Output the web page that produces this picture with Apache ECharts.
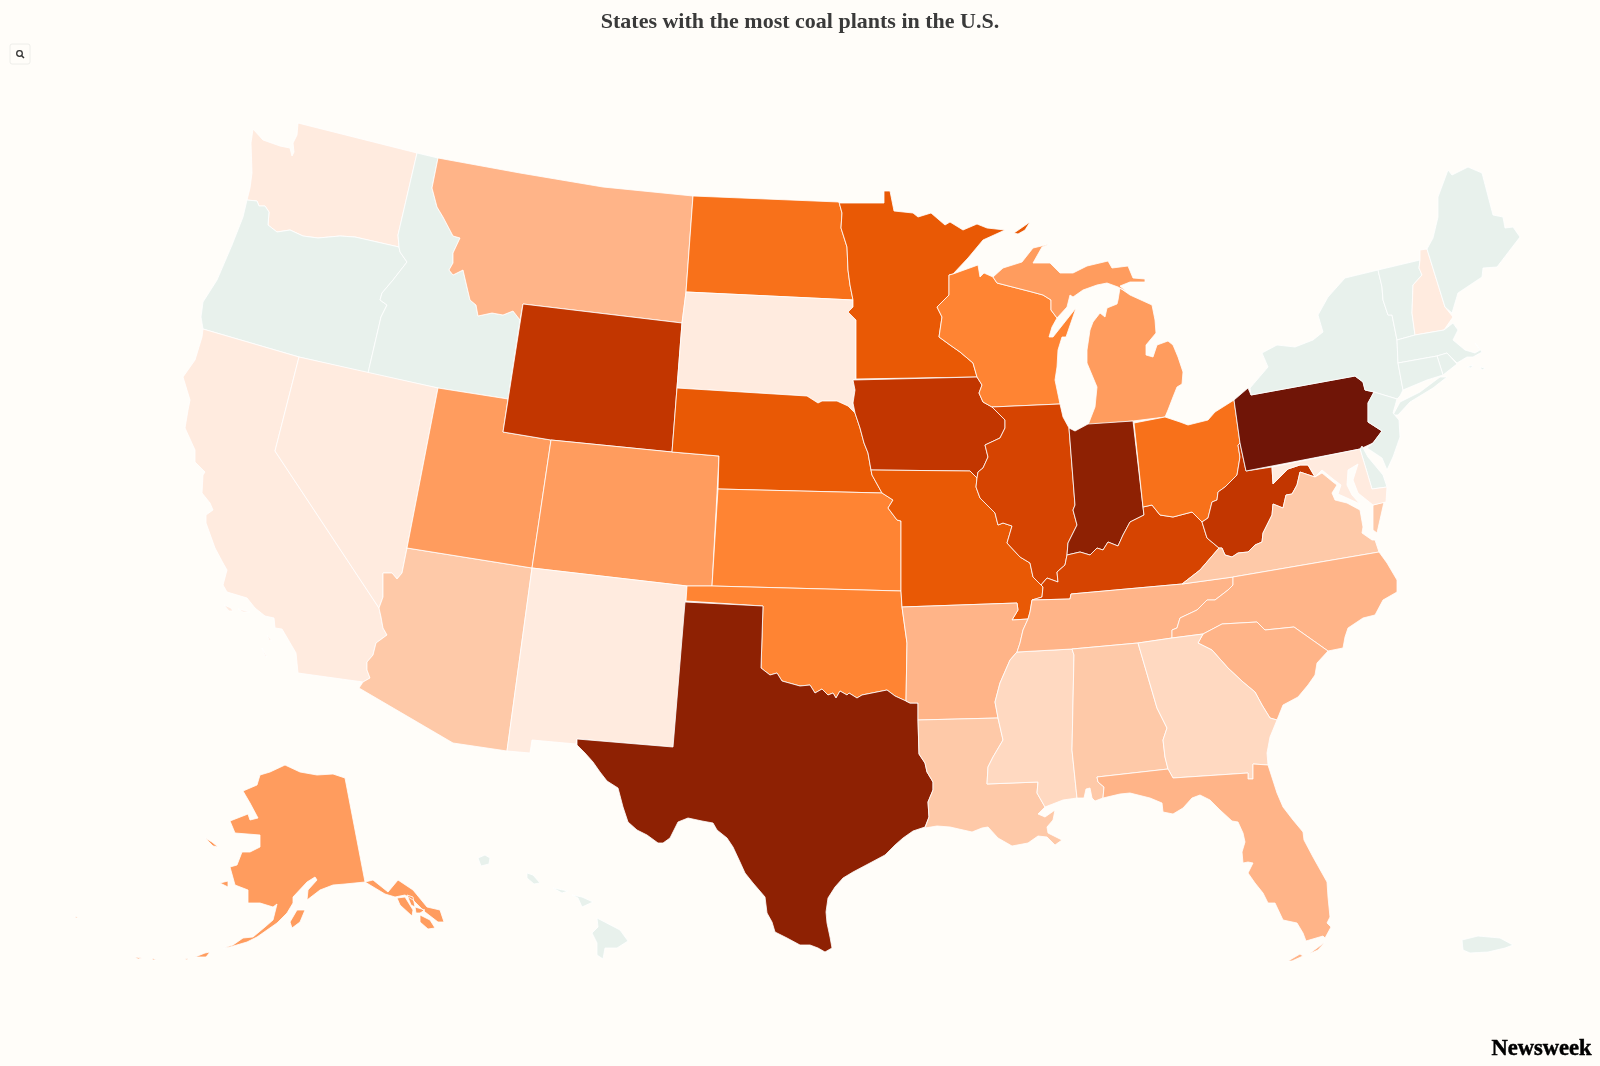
<!DOCTYPE html>
<html>
<head>
<meta charset="utf-8">
<title>States with the most coal plants in the U.S.</title>
<style>
  html, body { margin: 0; padding: 0; background: #fffdf9; }
  #map { width: 1600px; height: 1066px; }
</style>
<script src="https://cdn.jsdelivr.net/npm/echarts@6/dist/echarts.min.js"></script>
</head>
<body>
<div id="map"></div>
<script>
// values (colour class of each state)
const stateNames = ['Washington','Oregon','Idaho','California','Nevada','Arizona','Utah','Montana','Wyoming','Colorado','New Mexico','North Dakota','South Dakota','Nebraska','Kansas','Oklahoma','Texas','Minnesota','Iowa','Missouri','Arkansas','Louisiana','Wisconsin','Illinois','Mississippi','Michigan','Indiana','Kentucky','Tennessee','Alabama','Ohio','West Virginia','Virginia','North Carolina','South Carolina','Georgia','Florida','Pennsylvania','New York','Vermont','New Hampshire','Maine','Massachusetts','Rhode Island','Connecticut','New Jersey','Delaware','Maryland','Alaska','Hawaii','Puerto Rico'];
const coalPlants = [1,0,0,1,1,3,5,4,10,5,1,7,1,8,6,6,11,8,10,8,4,3,6,9,2,5,11,9,4,3,7,10,3,4,4,2,4,12,0,0,1,0,0,0,0,0,0,1,5,0,0];
const levelColors = ['#e8f1ec','#ffebdf','#ffd9c1','#fec9a8','#ffb488','#ff9c5e','#ff8433','#f8711a','#e95905','#d64401','#c23600','#8e2103','#701507'];

const rev = s => s.split(' ').reverse().join(' ');
const waOr = '399,247 355,237 340,236 318,238 303,236 290,230 277,232 268,225 269,212 265,206 259,206 257,201 247,200';
const orId = '368,373 381,317 387,305 380,300 382,293 393,280 407,262 400,252 399,247';
const idMt = '438,158 432,188 437,207 443,217 453,236 460,238 453,253 453,263 449,270 453,275 463,270 466,283 470,300 476,305 478,316 492,313 503,315 513,311 520,320';
const azCa = '363,682 370,678 367,670 367,662 373,655 376,643 387,635 383,628 381,617 379,608';
const azNv = '379,608 383,597 383,573 392,573 397,579 402,573 407,548';
const ndMn = '839,202 842,213 841,228 847,247 848,270 850,285 853,300';
const sdMn = '853,300 853,307 848,312 856,320 856,379';
const sdIa = '856,379 853,380 855,390 853,403 855,413';
const sdNe = '677,388 807,396 818,403 822,401 837,401 848,406 855,413';
const neIa = '855,413 860,428 864,443 868,453 871,470';
const ksMo = '882,493 893,500 888,508 897,520 901,521 901,591';
const redRiver = '761,668 770,675 777,673 782,681 800,686 810,685 815,693 822,689 828,695 833,693 836,698 840,691 847,695 849,693 857,698 862,695 877,692 887,690 895,696 906,701';
const okAr = '902,607 907,643 906,701';
const laTx = '918,720 919,754 925,763 927,772 933,782 933,790 928,802 929,817 925,827';
const mnWi = '953,274 949,275 949,295 937,307 942,317 939,337 950,345 960,352 973,363 977,377';
const wiIa = '977,377 982,385 979,393 983,402 992,407';
const ilIa = '992,407 1005,420 1005,428 1000,438 985,445 988,457 983,468 978,472 977,478';
const moIl = '977,478 976,487 980,498 995,513 998,525 1003,523 1012,526 1007,543 1020,557 1030,563 1033,577 1041,585';
const ilIn = '1069,428 1075,505 1073,510 1077,525 1068,543 1067,555';
const ilKy = '1067,555 1065,565 1057,572 1058,582 1047,578 1041,585';
const kyMo = '1041,585 1043,587 1042,597 1032,600';
const inKy = '1067,555 1080,552 1090,555 1097,548 1103,550 1108,542 1118,546 1123,535 1130,522 1144,515 1143,507';
const kyOh = '1143,507 1152,505 1160,515 1173,517 1192,512 1202,522';
const kyWv = '1202,522 1207,538 1219,548';
const kyVa = '1219,548 1200,570 1182,584';
const kyTn = '1182,584 1071,594 1070,599 1032,600';
const arMo = '902,607 1017,603 1018,610 1012,620 1028,619';
const moTn = '1032,600 1030,612 1028,619';
const arTn = '1028,619 1023,630 1020,643 1017,652';
const arMs = '1017,652 1010,660 1000,683 995,702 998,718';
const laMs = '998,718 1003,740 993,757 988,767 987,784 1038,782 1037,793 1045,807';
const alMs = '1072,649 1074,655 1072,750 1077,798';
const tnSouth = '1017,652 1072,649 1138,643 1172,638';
const alGa = '1138,643 1157,708 1167,728 1163,740 1165,757 1168,769';
const flGa = '1168,769 1173,778 1248,773 1248,779 1253,779 1253,764 1268,765';
const ncTn = '1172,638 1172,630 1177,628 1180,618 1197,610 1207,600 1215,600 1228,590 1233,585 1233,577';
const ncSc = '1203,634 1222,624 1257,622 1265,630 1294,627 1328,651';
const gaSc = '1203,634 1198,643 1212,650 1228,668 1243,682 1255,692 1262,705 1270,718 1277,720';
const ohWv = '1240,443 1238,445 1240,457 1237,475 1225,487 1218,492 1217,500 1212,502 1208,518 1202,522';
const vaWv = '1315,477 1300,472 1297,485 1292,494 1286,495 1283,508 1273,504 1272,515 1263,533 1262,542 1255,545 1248,552 1238,553 1232,557 1225,555 1222,548 1219,548';
const mdWv = '1272,467 1273,484 1288,469 1300,465 1308,465 1315,477';
const paDelaware = '1374,392 1368,403 1368,412 1368,422 1382,431 1373,443';
const nyPa = '1251,395 1355,376 1363,382 1365,390 1374,392';
const nyEast = '1378,270 1382,287 1383,300 1388,315 1392,315 1397,340';
const nyNe = '1397,340 1398,363 1403,390 1400,396 1397,399';
const nhVt = '1420,260 1419,268 1422,275 1413,285 1412,313 1415,335';

const stateOutlines = {
  'Washington': [`298,123 417,153 398,235 ${waOr} 250,188 252,173 251,143 253,129 263,140 280,146 290,148 292,156 294,152 293,143 297,135`],
  'Oregon': [`${waOr} 243,217 232,245 217,280 203,302 201,317 203,329 299,357 ${orId}`],
  'Idaho': [`417,153 ${idMt} 508,399 438,388 ${orId} 398,235`],
  'California': [`203,329 299,357 275,451 ${rev(azCa)} 298,673 297,663 296,653 282,629 275,628 274,618 265,616 255,608 247,598 227,592 223,585 227,570 223,563 215,548 206,523 206,515 213,510 210,503 202,493 203,475 205,472 195,462 195,450 185,428 188,410 190,400 183,377 195,360 202,337`,
    '224,605 231,608 233,611 229,611', '238,609 250,612 243,612', '262,648 267,657 265,656', '267,635 272,641 269,640'],
  'Nevada': [`299,357 438,388 ${rev(azNv)} 275,451`],
  'Arizona': [`407,548 532,568 507,751 453,743 359,688 ${azCa} ${azNv}`],
  'Utah': ['438,388 508,399 503,432 551,440 532,568 407,548'],
  'Montana': [`${idMt} 523,304 682,323 686,292 693,196 603,187 520,173`],
  'Wyoming': ['523,304 682,323 672,452 551,440 503,432'],
  'Colorado': ['551,440 672,452 719,456 712,586 687,586 532,568'],
  'New Mexico': ['532,568 687,586 686,601 673,747 577,739 576,744 532,740 530,753 507,751'],
  'North Dakota': [`693,196 ${ndMn} 686,292`],
  'South Dakota': [`686,292 ${sdMn} ${sdIa} ${rev(sdNe)} 682,323`],
  'Nebraska': [`${sdNe} ${neIa} 872,475 882,493 718,489 719,456 672,452`],
  'Kansas': [`718,489 ${ksMo} 712,586`],
  'Oklahoma': [`687,586 712,586 901,591 ${okAr} ${rev(redRiver)} 763,606 686,601`],
  'Texas': [`685,602 763,606 ${redRiver} 910,703 918,703 ${laTx} 913,831 903,838 895,845 885,855 870,863 853,872 843,878 835,887 828,898 826,912 827,923 830,937 832,948 825,952 818,948 810,945 800,945 787,938 775,932 772,922 767,913 765,897 753,883 745,873 740,862 733,847 727,838 717,830 713,823 702,821 688,818 678,822 673,832 670,838 663,843 658,843 647,835 637,830 628,822 623,807 618,788 607,781 600,772 593,762 585,753 577,745 577,739 673,747`],
  'Minnesota': [`840,203 884,203 884,191 890,191 894,211 913,213 918,217 931,213 945,225 950,222 963,230 977,224 987,228 1005,230 983,240 968,258 ${mnWi} 856,379 ${rev(sdMn)} ${rev(ndMn)}`,
    '1014,233 1030,222 1025,230 1018,234'],
  'Iowa': [`853,380 977,377 ${wiIa} ${ilIa} 970,471 871,470 ${rev(neIa)} ${rev(sdIa).split(' ').slice(0,-1).join(' ')}`],
  'Missouri': [`871,470 970,471 ${moIl} ${kyMo} ${moTn} ${rev(arMo)} 901,591 ${rev(ksMo)} 872,475`],
  'Arkansas': [`${arMo} ${arTn} ${arMs} 918,720 918,703 910,703 ${rev(okAr)}`],
  'Louisiana': [`918,720 ${laMs} 1038,814 1045,817 1055,810 1053,820 1047,827 1048,833 1062,840 1055,845 1047,837 1038,836 1028,843 1012,846 998,838 988,827 982,828 972,832 950,827 937,826 925,828 ${rev(laTx)}`],
  'Wisconsin': [`${mnWi} ${wiIa} 1060,404 1055,380 1057,367 1058,350 1062,337 1066,337 1076,308 1053,337 1049,337 1052,327 1057,318 1051,310 1051,300 1043,295 1032,292 997,283 993,277 984,273 980,277 978,265`],
  'Illinois': [`992,407 1060,404 1063,417 ${ilIn} ${ilKy} ${rev(moIl)} ${rev(ilIa)}`],
  'Mississippi': [`${arMs} ${laMs} 1063,800 ${rev(alMs)}`],
  'Michigan': ['1088,425 1133,421 1165,417 1168,410 1173,397 1177,387 1182,384 1183,372 1178,357 1173,345 1168,341 1157,345 1153,357 1146,355 1146,345 1156,333 1155,320 1152,305 1130,295 1120,288 1118,300 1117,304 1107,308 1105,317 1100,313 1093,322 1090,330 1087,350 1087,363 1097,387 1095,407',
    '993,277 1003,268 1022,262 1033,248 1050,244 1042,247 1033,263 1050,263 1060,273 1073,273 1087,266 1108,261 1112,268 1128,266 1133,278 1145,279 1145,282 1130,282 1120,286 1127,292 1118,287 1107,283 1097,285 1083,290 1073,297 1070,295 1067,307 1057,318 1051,310 1051,300 1043,295 1032,292 997,283'],
  'Indiana': [`1069,428 1075,431 1088,424 1133,421 1143,507 ${rev(inKy).split(' ').slice(1).join(' ')} ${rev(ilIn).split(' ').slice(1).join(' ')}`],
  'Kentucky': [`${inKy} ${kyOh} ${kyWv} ${kyVa} ${kyTn} ${rev(kyMo)} ${rev(ilKy)}`],
  'Tennessee': [`1032,600 ${rev(kyTn).split(' ').slice(1).join(' ')} 1233,577 ${rev(ncTn)} ${rev(tnSouth)} ${rev(arTn)} ${rev(moTn)}`],
  'Alabama': [`1072,649 ${alGa} 1097,777 1098,782 1104,787 1103,798 1095,801 1092,798 1090,788 1086,789 1084,798 1077,798 ${rev(alMs).split(' ').slice(1).join(' ')}`],
  'Ohio': [`1134,423 1165,417 1180,422 1188,425 1208,420 1215,412 1234,400 1240,443 ${ohWv} ${rev(kyOh)}`],
  'West Virginia': [`1240,443 1246,471 ${mdWv} ${vaWv} ${rev(kyWv)} ${rev(ohWv)}`],
  'Virginia': [`1182,584 1233,577 1379,552 1375,540 1372,540 1362,533 1363,527 1360,510 1347,503 1335,500 1332,493 1337,485 1333,482 1322,473 ${vaWv} ${kyVa}`,
    '1373,505 1384,502 1377,533 1373,530'],
  'North Carolina': [`1233,577 1379,552 1387,563 1397,580 1397,592 1383,600 1375,615 1363,618 1348,628 1345,637 1343,648 1328,651 ${rev(ncSc)} 1172,638 1172,630 1177,628 1180,618 1197,610 1207,600 1215,600 1228,590 1233,585`],
  'South Carolina': [`${gaSc} 1283,705 1298,697 1308,685 1315,675 1317,663 1328,651 ${rev(ncSc)}`],
  'Georgia': [`1138,643 1172,638 ${gaSc} 1270,737 1267,753 1268,765 ${rev(flGa)} ${rev(alGa).split(' ').slice(1).join(' ')}`],
  'Florida': [`1097,777 ${flGa} 1277,793 1283,807 1293,820 1303,832 1304,840 1313,857 1327,882 1328,897 1330,917 1327,923 1331,927 1325,938 1323,936 1306,941 1303,933 1297,923 1283,920 1275,903 1268,903 1263,893 1255,883 1248,873 1253,863 1248,862 1243,863 1242,852 1245,842 1243,833 1238,822 1232,821 1220,810 1210,800 1200,795 1192,798 1183,808 1173,814 1163,812 1162,803 1150,798 1130,793 1120,794 1103,798 1104,787 1098,782`,
    '1288,961 1300,954 1303,956 1292,961', '1309,954 1325,942 1318,950'],
  'Pennsylvania': [`1234,400 1248,388 1251,395 ${nyPa} ${paDelaware} 1360,449 1246,471 1240,443`],
  'New York': [`${nyPa.split(' ').slice(0,1)} 1250,388 1268,367 1262,353 1277,345 1295,347 1313,340 1323,332 1318,315 1328,297 1345,278 ${nyEast} ${nyNe} ${rev(nyPa).split(' ').slice(0,-1).join(' ')}`,
    '1400,402 1420,392 1440,377 1447,377 1433,388 1410,402 1398,415 1393,415'],
  'Vermont': [`1378,270 ${nhVt} ${rev(nyEast)}`],
  'New Hampshire': [`1420,250 1427,249 1445,307 1453,317 1444,330 ${rev(nhVt)}`],
  'Maine': ['1427,249 1433,238 1438,217 1438,197 1448,170 1452,175 1468,167 1482,173 1493,215 1503,217 1505,228 1513,227 1520,237 1510,250 1497,267 1483,268 1482,277 1467,287 1458,293 1452,313 1445,307'],
  'Massachusetts': ['1397,340 1415,335 1444,330 1453,323 1458,330 1453,340 1465,350 1475,353 1480,350 1475,343 1482,352 1473,357 1467,357 1457,363 1447,353 1437,356 1398,363',
    '1467,367 1473,365 1471,368', '1480,367 1485,368 1482,370'],
  'Rhode Island': ['1437,356 1447,353 1457,364 1443,375'],
  'Connecticut': ['1398,363 1437,356 1443,375 1427,380 1403,390'],
  'New Jersey': [`1374,392 1397,399 1393,413 1399,420 1400,437 1393,457 1387,470 1382,458 1367,448 1373,443 ${rev(paDelaware).split(' ').slice(1).join(' ')}`],
  'Delaware': ['1360,449 1362,446 1368,457 1383,475 1387,487 1372,489'],
  'Maryland': ['1272,467 1360,449 1372,489 1387,487 1386,502 1373,505 1358,493 1353,480 1358,464 1348,470 1347,485 1352,495 1360,504 1347,498 1338,494 1341,485 1333,479 1322,470 1315,477 1308,465 1300,465 1288,469 1273,484'],
  'Alaska': ['345,778 333,774 317,775 300,772 285,765 270,772 260,775 257,785 243,791 250,803 258,818 250,820 248,814 230,821 235,833 260,835 260,847 250,852 242,852 237,865 230,867 235,885 248,890 248,903 260,903 273,907 277,904 273,920 265,927 253,937 243,938 233,945 223,948 230,947 247,942 257,937 267,930 277,923 287,913 293,903 293,897 307,882 315,877 317,880 308,890 307,900 320,890 333,885 345,884 365,882',
    '365,882 373,880 388,892 398,880 413,890 427,907 440,910 444,922 438,922 425,912 413,900 405,895 395,897 385,894 375,888',
    '397,898 405,897 413,910 412,916 400,905', '407,895 413,897 415,907 411,905', '415,907 425,910 420,913 416,913', '420,915 430,920 435,928 428,929 420,922',
    '290,922 297,910 305,910 300,922 292,928', '220,883 228,881 228,887', '205,838 212,842 218,847 213,846',
    '195,957 205,953 210,952 206,957', '135,957 142,958 138,959', '152,958 156,960 153,960', '75,916 78,918 76,918', '185,959 188,958 187,960'],
  'Hawaii': ['597,918 620,930 628,941 617,948 605,948 603,959 597,955 597,943 592,933 598,927',
    '572,895 582,897 593,902 582,907 578,898', '553,888 568,891 562,893', '527,873 533,875 540,883 534,884 527,878', '478,858 485,855 490,858 489,864 481,866'],
  'Puerto Rico': ['1462,940 1478,936 1500,938 1513,945 1505,948 1488,952 1470,953 1463,950']
};

// page y runs down, map y runs up
function toRing(str) {
  const pts = str.split(' ').map(p => {
    const xy = p.split(',');
    return [+xy[0], -xy[1]];
  });
  pts.push(pts[0]);
  return [pts];
}

const usGeo = {
  type: 'FeatureCollection',
  features: stateNames.map(name => ({
    type: 'Feature',
    properties: { name: name },
    geometry: { type: 'MultiPolygon', coordinates: stateOutlines[name].map(toRing) }
  }))
};
echarts.registerMap('usa', usGeo);

const myChart = echarts.init(document.getElementById('map'));
myChart.setOption({
  animation: false,
  backgroundColor: '#fffdf9',
  title: [
    {
      text: 'States with the most coal plants in the U.S.',
      left: 'center',
      top: 6,
      textStyle: { fontFamily: '"Liberation Serif"', fontWeight: 'bold', fontSize: 22, color: '#3a3a3a' }
    },
    {
      text: 'Newsweek',
      right: 3,
      top: 1033,
      textStyle: { fontFamily: '"Liberation Serif"', fontWeight: 'bold', fontSize: 22.5, color: '#000', textBorderColor: '#000', textBorderWidth: 0.5 }
    }
  ],
  tooltip: { trigger: 'item' },
  visualMap: {
    show: false,
    type: 'piecewise',
    seriesIndex: 0,
    pieces: levelColors.map((c, i) => ({ value: i, color: c }))
  },
  geo: {
    map: 'usa',
    roam: false,
    aspectScale: 1,
    boundingCoords: [[0, 0], [1600, -1066]],
    left: 0,
    top: 0,
    width: 1600,
    height: 1066,
    label: { show: false },
    emphasis: { disabled: true },
    select: { disabled: true },
    itemStyle: { borderColor: '#ffffff', borderWidth: 0.8 }
  },
  series: [{
    type: 'map',
    geoIndex: 0,
    data: stateNames.map((n, i) => ({ name: n, value: coalPlants[i] }))
  }],
  graphic: [
    { type: 'rect', shape: { x: 10, y: 44, width: 20, height: 20, r: 2 }, style: { fill: '#fffdf9', stroke: '#eeeeea', lineWidth: 1 } },
    { type: 'circle', shape: { cx: 19.5, cy: 53.5, r: 2.8 }, style: { fill: 'none', stroke: '#333', lineWidth: 1.3 } },
    { type: 'line', shape: { x1: 21.5, y1: 55.5, x2: 24, y2: 58 }, style: { stroke: '#333', lineWidth: 1.5 } }
  ]
});
</script>
</body>
</html>
